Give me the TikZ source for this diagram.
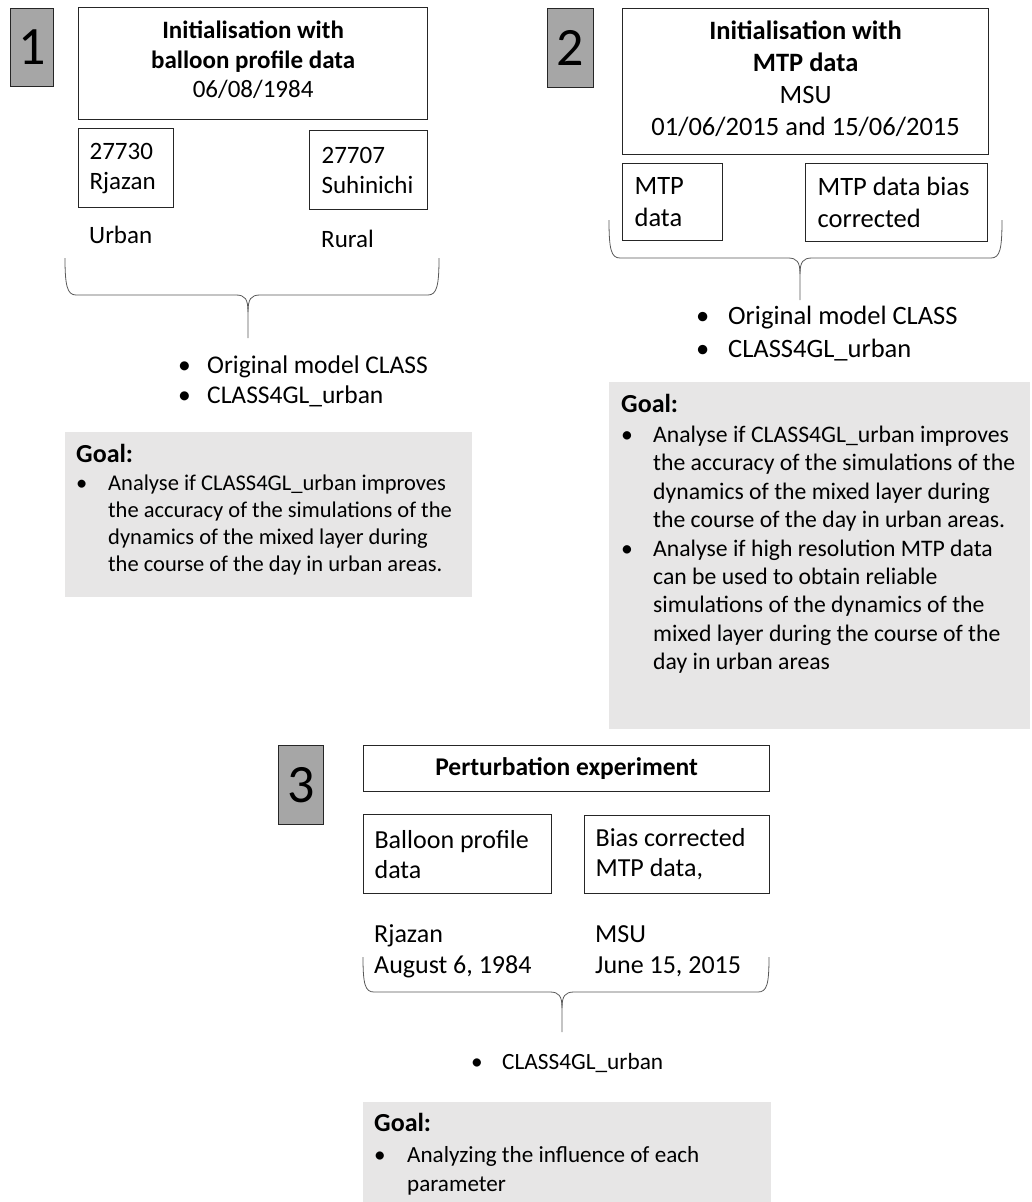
\documentclass[tikz,border=0pt]{standalone}
\usepackage{fontspec}
\setmainfont{Carlito}
\usetikzlibrary{positioning}
\definecolor{numgray}{HTML}{A6A6A6}
\definecolor{goalgray}{HTML}{E7E6E6}
\definecolor{framegray}{HTML}{262626}
\definecolor{bracegray}{HTML}{595959}
\newcommand{\bul}[1]{\makebox[#1][l]{\textbullet}}
\newcommand{\goalhead}{{\fontsize{26}{30}\selectfont\bfseries Goal:}}
\tikzset{
  numbox/.style={draw=framegray, fill=numgray, line width=1.2pt, anchor=north west, inner sep=0pt,
                 font=\fontsize{54}{60}\selectfont},
  titlebox/.style={draw=framegray, line width=1.2pt, anchor=north west, inner sep=0pt},
  titletxt/.style={align=center, inner sep=0pt},
  databox/.style={draw=framegray, line width=1.2pt, anchor=north west, align=flush left, inner ysep=0pt},
  goalbox/.style={fill=goalgray, anchor=north west, inner sep=0pt},
  txt/.style={anchor=north west, align=left, inner sep=0pt},
  wbrace/.style={draw=bracegray, line width=0.8pt},
}

\begin{document}
\begin{tikzpicture}[x=1pt, y=-1pt]
  \useasboundingbox (0,0) rectangle (1031,1202);

  % 1: balloon profiles
  \node[numbox, minimum width=43pt, minimum height=78pt] (num1) at (10,8) {1};
  \node[titlebox, minimum width=349pt, minimum height=112pt] (init1) at (78,7) {};
  \node[titletxt, font=\fontsize{25}{29.5}\selectfont] (init1txt) at ([yshift=3.5pt]init1.center)
    {\textbf{Initialisation with}\\\textbf{balloon profile data}\\06/08/1984};
  \node[databox, inner xsep=11pt, text width=73pt, minimum height=79pt, font=\fontsize{25}{30}\selectfont] (rjazan) at (78,128) {27730\\Rjazan};
  \node[databox, inner xsep=12pt, text width=94pt, minimum height=79pt, font=\fontsize{25}{30}\selectfont] (suhinichi) at (309,130) {27707\\Suhinichi};
  \node[txt, font=\fontsize{25}{30}\selectfont] (urban) at (89,226) {Urban};
  \node[txt, font=\fontsize{25}{30}\selectfont] (rural) at (321,230) {Rural};

  \draw[wbrace] (65,258) .. controls (65,285) and (67,295) .. (76,295) -- (236,295) .. controls (245,295) and (248,299) .. (248,312) -- (248,338);
  \draw[wbrace] (248,312) .. controls (248,299) and (251,295) .. (260,295) -- (428,295) .. controls (437,295) and (439,285) .. (439,258);

  \node[txt, font=\fontsize{25.5}{30}\selectfont] (models1) at (178,356)
    {\bul{29pt}Original model CLASS\\\bul{29pt}CLASS4GL\_urban};

  \node[goalbox, minimum width=407pt, minimum height=165pt] (goal1) at (65,432) {};
  \node[txt, font=\fontsize{22.5}{27}\selectfont] (goal1txt) at (76,444)
    {\goalhead\\[1pt]
     \bul{32pt}Analyse if CLASS4GL\_urban improves\\
     \hspace*{32pt}the accuracy of the simulations of the\\
     \hspace*{32pt}dynamics of the mixed layer during\\
     \hspace*{32pt}the course of the day in urban areas.};

  % 2: MTP data
  \node[numbox, minimum width=46pt, minimum height=79pt] (num2) at (547,8) {2};
  \node[titlebox, minimum width=366pt, minimum height=146pt] (init2) at (622,8) {};
  \node[titletxt, font=\fontsize{26.5}{32}\selectfont] (init2txt) at ([yshift=3pt]init2.center)
    {\textbf{Initialisation with}\\\textbf{MTP data}\\MSU\\01/06/2015 and 15/06/2015};
  \node[databox, inner xsep=12pt, text width=76pt, minimum height=77pt, font=\fontsize{26.5}{32}\selectfont] (mtp) at (622,163) {MTP\\data};
  \node[databox, inner xsep=12pt, text width=158pt, minimum height=78pt, font=\fontsize{26.5}{32}\selectfont] (mtpbias) at (805,163) {MTP data bias\\corrected};

  \draw[wbrace] (609,220) .. controls (609,249) and (611,258) .. (620,258) -- (788,258) .. controls (797,258) and (800,262) .. (800,274) -- (800,300);
  \draw[wbrace] (800,274) .. controls (800,262) and (803,258) .. (812,258) -- (991,258) .. controls (1000,258) and (1002,249) .. (1002,220);

  \node[txt, font=\fontsize{26.5}{33}\selectfont] (models2) at (696,306)
    {\bul{32pt}Original model CLASS\\\bul{32pt}CLASS4GL\_urban};

  \node[goalbox, minimum width=421pt, minimum height=347pt] (goal2) at (609,382) {};
  \node[txt, font=\fontsize{23.7}{28.4}\selectfont] (goal2txt) at (621,394)
    {\goalhead\\[1.6pt]
     \bul{32pt}Analyse if CLASS4GL\_urban improves\\
     \hspace*{32pt}the accuracy of the simulations of the\\
     \hspace*{32pt}dynamics of the mixed layer during\\
     \hspace*{32pt}the course of the day in urban areas.\\
     \bul{32pt}Analyse if high resolution MTP data\\
     \hspace*{32pt}can be used to obtain reliable\\
     \hspace*{32pt}simulations of the dynamics of the\\
     \hspace*{32pt}mixed layer during the course of the\\
     \hspace*{32pt}day in urban areas};

  % 3: perturbation
  \node[numbox, minimum width=45pt, minimum height=79pt] (num3) at (278,745) {3};
  \node[titlebox, minimum width=406pt, minimum height=46pt] (pert) at (363,745) {};
  \node[titletxt, font=\fontsize{25.5}{30}\selectfont\bfseries] (perttxt) at (pert.center) {Perturbation experiment};
  \node[databox, inner xsep=11pt, text width=166pt, minimum height=79pt, font=\fontsize{26}{30}\selectfont] (balloon) at (363,814) {Balloon profile\\data};
  \node[databox, inner xsep=11pt, text width=163pt, minimum height=78pt, font=\fontsize{26}{30}\selectfont] (biasmtp) at (584,815) {Bias corrected\\MTP data,};
  \node[txt, font=\fontsize{26}{31.5}\selectfont] (rjazan3) at (374,924) {Rjazan\\August 6, 1984};
  \node[txt, font=\fontsize{26}{31.5}\selectfont] (msu3) at (595,925) {MSU\\June 15, 2015};

  \draw[wbrace] (363,957) .. controls (363,984) and (365,992) .. (374,992) -- (550,992) .. controls (559,992) and (562,996) .. (562,1008) -- (562,1032);
  \draw[wbrace] (562,1008) .. controls (562,996) and (565,992) .. (574,992) -- (758,992) .. controls (767,992) and (769,984) .. (769,957);

  \node[txt, font=\fontsize{23.3}{28}\selectfont] (models3) at (471,1053) {\bul{31pt}CLASS4GL\_urban};

  \node[goalbox, minimum width=408pt, minimum height=100pt] (goal3) at (363,1102) {};
  \node[txt, font=\fontsize{23.1}{29}\selectfont] (goal3txt) at (374,1113)
    {\goalhead\\[2pt]
     \bul{33pt}Analyzing the influence of each\\
     \hspace*{33pt}parameter};
\end{tikzpicture}
\end{document}
